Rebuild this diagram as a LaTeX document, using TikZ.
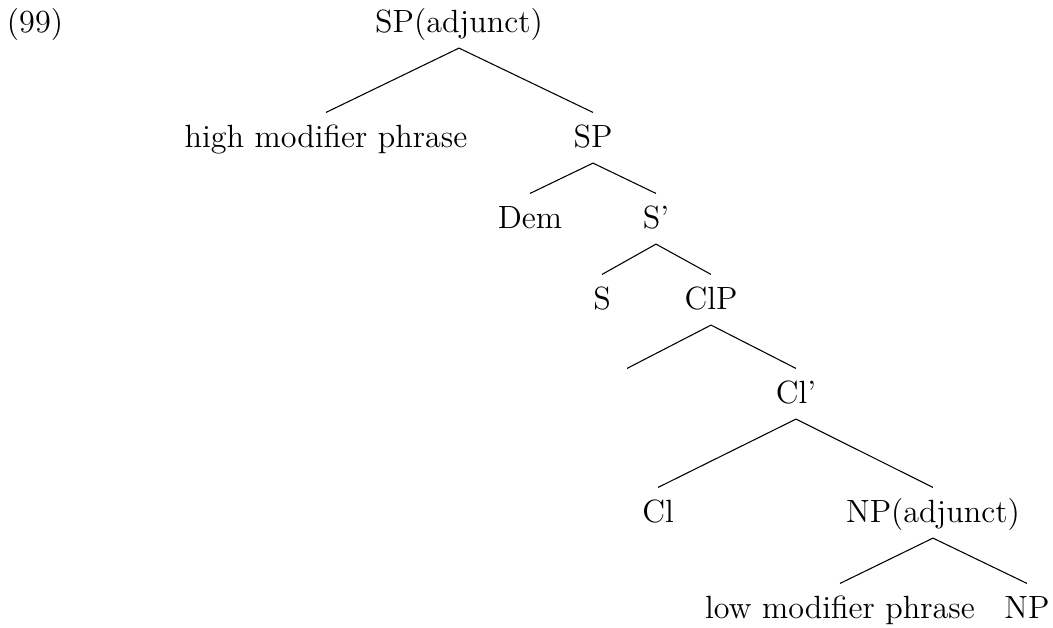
\documentclass[tikz,border=0pt,12pt]{standalone}

\begin{document}
\begin{tikzpicture}[x=0.3731pt, y=-0.3731pt,
    lbl/.style={anchor=base, inner sep=0pt, text height=12.7pt, text depth=5.8pt}]
  \useasboundingbox (0,0) rectangle (1053,627);
  \node[lbl] (ex) at (35,32) {(99)};
  \node[lbl] (top) at (459,32) {SP(adjunct)};
  \node[lbl] (hmp) at (326,147) {high modifier phrase};
  \node[lbl] (sp) at (593,147) {SP};
  \node[lbl] (dem) at (530,228) {Dem};
  \node[lbl] (sbar) at (656,228) {S'};
  \node[lbl] (s) at (602,309) {S};
  \node[lbl] (clp) at (711,309) {ClP};
  \node[lbl] (spec) at (627,403) {};
  \node[lbl] (clbar) at (796,403) {Cl'};
  \node[lbl] (cl) at (658,522) {Cl};
  \node[lbl] (npadj) at (933,522) {NP(adjunct)};
  \node[lbl] (lmp) at (840,618) {low modifier phrase};
  \node[lbl] (np) at (1027,618) {NP};
  \foreach \p/\c in {top/hmp, top/sp, sp/dem, sp/sbar, sbar/s, sbar/clp, clp/spec, clp/clbar,
      clbar/cl, clbar/npadj, npadj/lmp, npadj/np}{
    \draw (\p.south) -- (\c.north);
  }
\end{tikzpicture}
\end{document}
